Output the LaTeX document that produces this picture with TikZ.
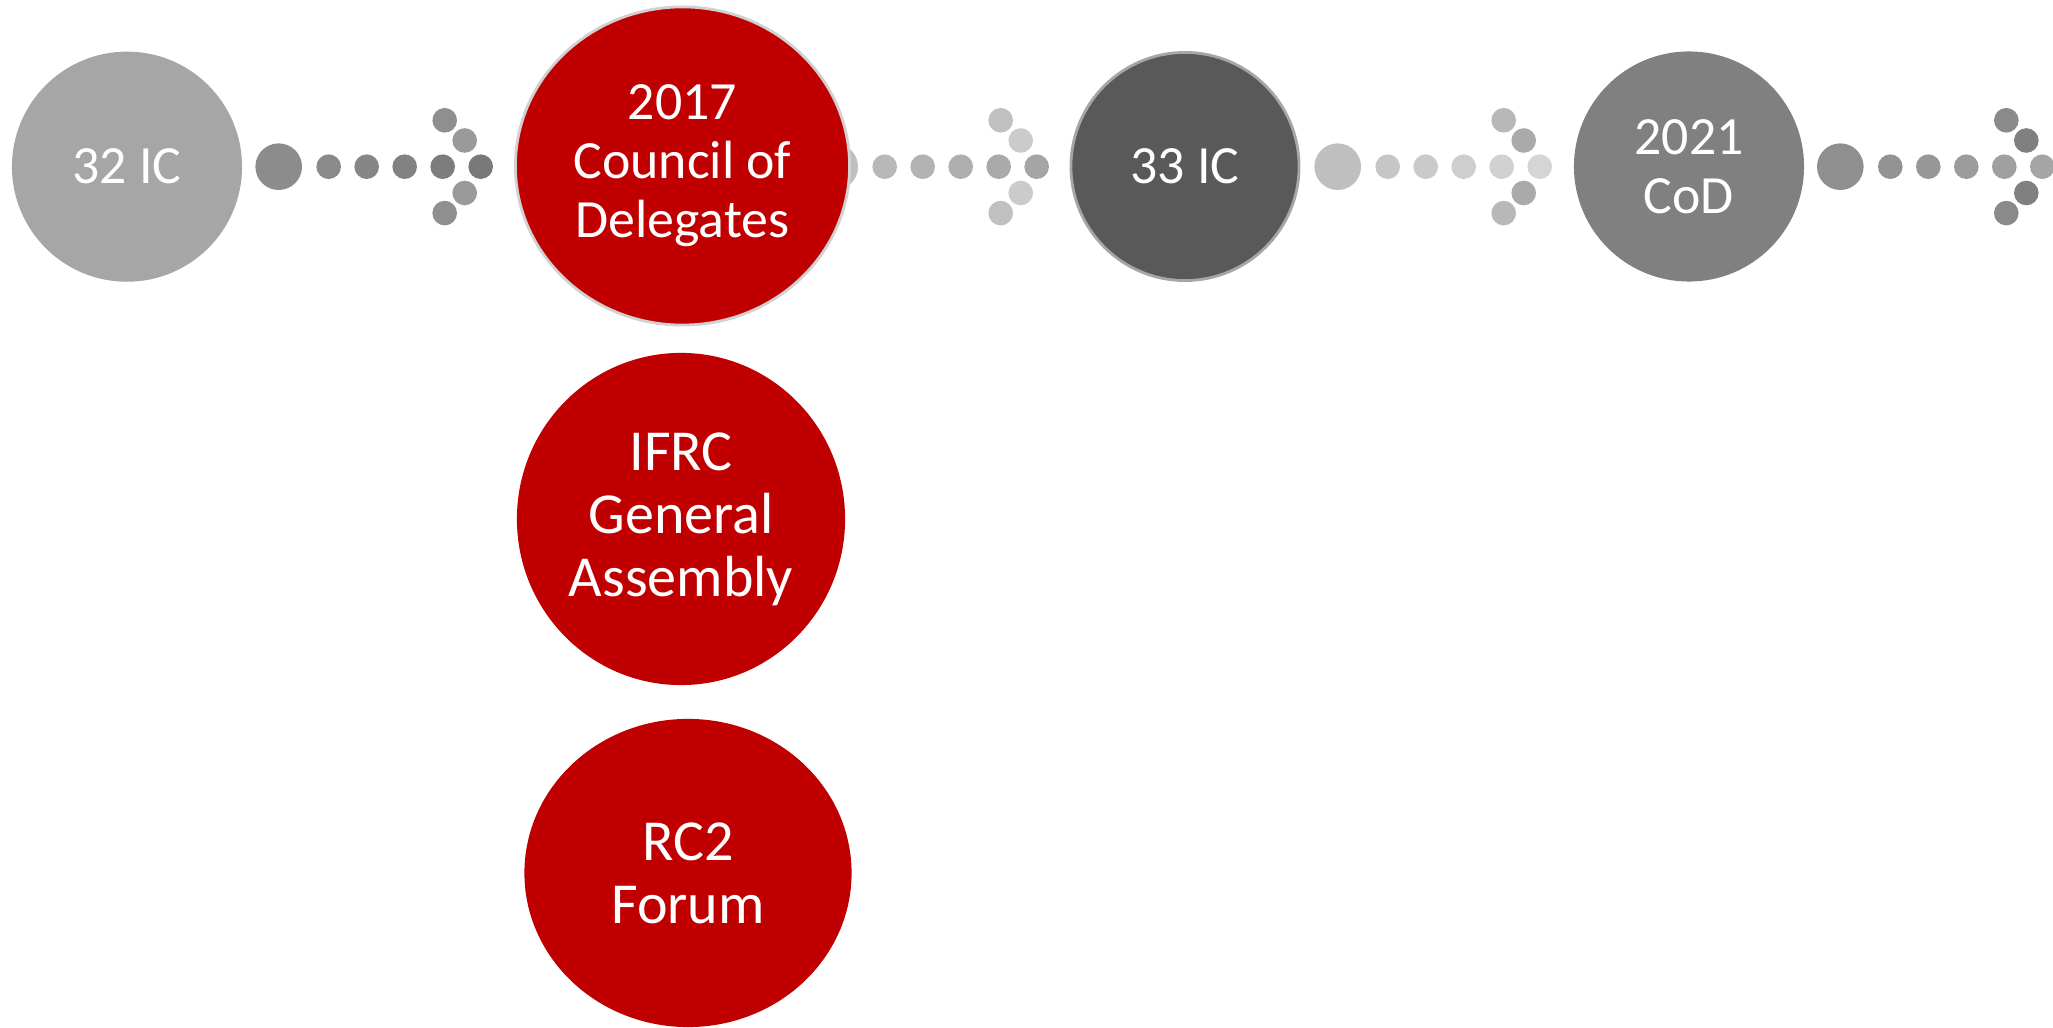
\documentclass[tikz,border=0pt]{standalone}
\usepackage{fontspec}
\setmainfont{Carlito}
\usetikzlibrary{shapes.geometric}

\definecolor{rcred}{HTML}{C00000}

% #1 x of the big dot, #2 big dot, #3/#4 first/last small dot, #5 outer tip, #6 inner tip (percent black)
\newcommand{\dotarrow}[6]{%
  \fill [black!#2] (#1,166.7) circle [radius=0.233cm];
  \foreach \i [evaluate=\i as \dx using 50+38*\i,
               evaluate=\i as \q using #3+(#4-#3)*\i/4] in {0,...,4}
    \fill [black!\q] (#1+\dx,166.7) circle [radius=0.123cm];
  \fill [black!#5] (#1+166,120.3) circle [radius=0.123cm];
  \fill [black!#5] (#1+166,213.1) circle [radius=0.123cm];
  \fill [black!#6] (#1+186,140.5) circle [radius=0.123cm];
  \fill [black!#6] (#1+186,193.0) circle [radius=0.123cm];
}

\begin{document}
\begin{tikzpicture}[x = 0.01cm, y = -0.01cm,
    stage/.style = {ellipse, inner sep = 0pt, text = white, align = center,
                    font = \fontsize{15.3}{16.8}\selectfont},
    redstage/.style = {stage, fill = rcred, font = \fontsize{16.5}{17.9}\selectfont}]
    \useasboundingbox (0,0) rectangle (2053,1028);

    \dotarrow{278.7}{45.1}{45.9}{52.5}{43.9}{39.6}
    \dotarrow{834.7}{25.1}{27.8}{35.3}{24.7}{20.4}
    \dotarrow{1337.7}{25.1}{22.4}{16.5}{27.8}{33.3}
    \dotarrow{1840.3}{43.9}{42.4}{35.3}{45.9}{49.8}

    \node (ic32)  at ( 127,166.7) [stage, fill = black!35, minimum width = 2.30cm, minimum height = 2.30cm] {32 IC};
    \node (cod17) at (682.5,166) [stage, fill = rcred, draw = black!18, line width = .8pt,
                                  minimum width = 3.34cm, minimum height = 3.18cm] {2017\\Council of\\Delegates};
    \node (ic33)  at (1185,166.5) [stage, fill = black!65, draw = black!35, line width = .8pt,
                                  minimum width = 2.28cm, minimum height = 2.28cm] {33 IC};
    \node (cod21) at (1689,166.5) [stage, fill = black!50, minimum width = 2.30cm, minimum height = 2.30cm] {2021\\CoD};
    \node (ga)    at ( 681, 519) [redstage, minimum width = 3.28cm, minimum height = 3.32cm] {IFRC\\General\\Assembly};
    \node (rc2)   at ( 688, 873) [redstage, minimum width = 3.27cm, minimum height = 3.08cm] {RC2\\Forum};
\end{tikzpicture}
\end{document}
